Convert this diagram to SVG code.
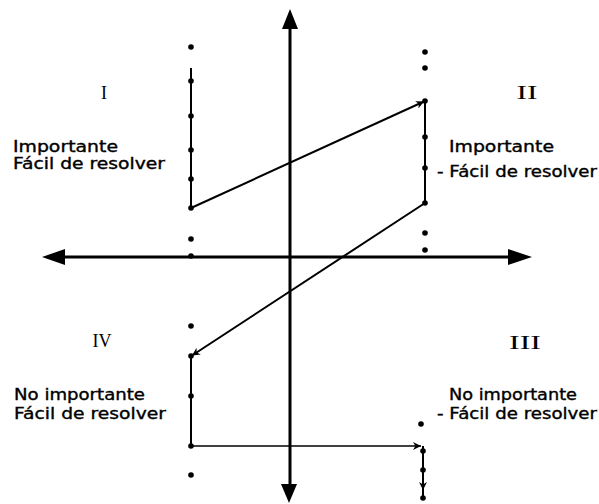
<svg xmlns="http://www.w3.org/2000/svg" width="599" height="504" viewBox="0 0 599 504">
  <defs>
    <marker id="sm" viewBox="0 0 10 10" refX="10" refY="5" markerWidth="10" markerHeight="8" markerUnits="userSpaceOnUse" orient="auto">
      <path d="M0,0 L10,5 L0,10 L3,5 Z" fill="#000"/>
    </marker>
  </defs>
  <style>
    .lbl { font-family: "DejaVu Sans", "Liberation Sans", sans-serif; font-size: 15px; fill: #000; stroke: #000; stroke-width: 0.35; }
    .num { font-family: "Liberation Serif", "DejaVu Serif", serif; font-size: 18px; fill: #000; text-anchor: middle; }
    .axis { stroke: #000; stroke-width: 3; fill: none; }
    .path { stroke: #000; stroke-width: 2; fill: none; }
    .thin { stroke: #000; stroke-width: 1.5; fill: none; }
    .dot { fill: #000; }
    .head { fill: #000; }
  </style>
  <rect width="599" height="504" fill="#fff"/>

  <g id="connectors">
    <!-- axes -->
    <line class="axis" x1="290" y1="26" x2="290" y2="486"/>
    <polygon class="head" points="290,9 282,29 298,29"/>
    <polygon class="head" points="289,503 281,484 297,484"/>
    <line class="axis" x1="62" y1="257" x2="510" y2="257"/>
    <polygon class="head" points="42,257 65,249 65,265"/>
    <polygon class="head" points="532,257 508,249 508,265"/>
    <!-- quadrant path -->
    <line class="path" x1="191" y1="68" x2="191" y2="208"/>
    <line class="path" x1="191" y1="208" x2="424" y2="101.5" marker-end="url(#sm)"/>
    <line class="path" x1="425" y1="101" x2="425" y2="203"/>
    <line class="path" x1="425" y1="203" x2="192" y2="355.5" marker-end="url(#sm)"/>
    <line class="path" x1="191" y1="356" x2="191" y2="446"/>
    <line class="thin" x1="191" y1="446" x2="421" y2="446" marker-end="url(#sm)"/>
    <line class="path" x1="423" y1="446" x2="423" y2="490" marker-end="url(#sm)"/>
    <line class="path" x1="423" y1="488" x2="423" y2="498"/>
  </g>

  <g id="dots">
    <circle class="dot" cx="191" cy="47" r="2.8"/>
    <circle class="dot" cx="191" cy="81" r="2.8"/>
    <circle class="dot" cx="191" cy="116" r="2.8"/>
    <circle class="dot" cx="191" cy="150" r="2.8"/>
    <circle class="dot" cx="191" cy="179" r="2.8"/>
    <circle class="dot" cx="191" cy="208" r="2.8"/>
    <circle class="dot" cx="191" cy="239" r="2.8"/>
    <circle class="dot" cx="191" cy="256" r="2.8"/>
    <circle class="dot" cx="191" cy="326" r="2.8"/>
    <circle class="dot" cx="191" cy="356" r="2.8"/>
    <circle class="dot" cx="191" cy="396" r="2.8"/>
    <circle class="dot" cx="191" cy="446" r="2.8"/>
    <circle class="dot" cx="191" cy="475" r="2.8"/>
    <circle class="dot" cx="425" cy="52" r="2.8"/>
    <circle class="dot" cx="425" cy="68" r="2.8"/>
    <circle class="dot" cx="425" cy="101" r="2.8"/>
    <circle class="dot" cx="425" cy="137" r="2.8"/>
    <circle class="dot" cx="425" cy="168" r="2.8"/>
    <circle class="dot" cx="425" cy="203" r="2.8"/>
    <circle class="dot" cx="425" cy="233" r="2.8"/>
    <circle class="dot" cx="425" cy="250" r="2.8"/>
    <circle class="dot" cx="421" cy="424" r="2.8"/>
    <circle class="dot" cx="423" cy="451" r="2.8"/>
    <circle class="dot" cx="423" cy="470" r="2.8"/>
    <circle class="dot" cx="423" cy="498" r="2.8"/>
  </g>

  <g id="q1">
    <text class="num" x="104" y="99">I</text>
    <text class="lbl" x="13" y="152" textLength="105" lengthAdjust="spacingAndGlyphs">Importante</text>
    <text class="lbl" x="13" y="169" textLength="152" lengthAdjust="spacingAndGlyphs">Fácil de resolver</text>
  </g>
  <g id="q2">
    <text class="num" x="527" y="99" textLength="21" lengthAdjust="spacingAndGlyphs">II</text>
    <text class="lbl" x="449" y="152" textLength="105" lengthAdjust="spacingAndGlyphs">Importante</text>
    <text class="lbl" x="437" y="177" textLength="160" lengthAdjust="spacingAndGlyphs">- Fácil de resolver</text>
  </g>
  <g id="q4">
    <text class="num" x="102" y="347">IV</text>
    <text class="lbl" x="14" y="400" textLength="131" lengthAdjust="spacingAndGlyphs">No importante</text>
    <text class="lbl" x="14" y="419" textLength="152" lengthAdjust="spacingAndGlyphs">Fácil de resolver</text>
  </g>
  <g id="q3">
    <text class="num" x="525" y="349" textLength="32" lengthAdjust="spacingAndGlyphs">III</text>
    <text class="lbl" x="449" y="400" textLength="128" lengthAdjust="spacingAndGlyphs">No importante</text>
    <text class="lbl" x="437" y="419" textLength="160" lengthAdjust="spacingAndGlyphs">- Fácil de resolver</text>
  </g>
</svg>
